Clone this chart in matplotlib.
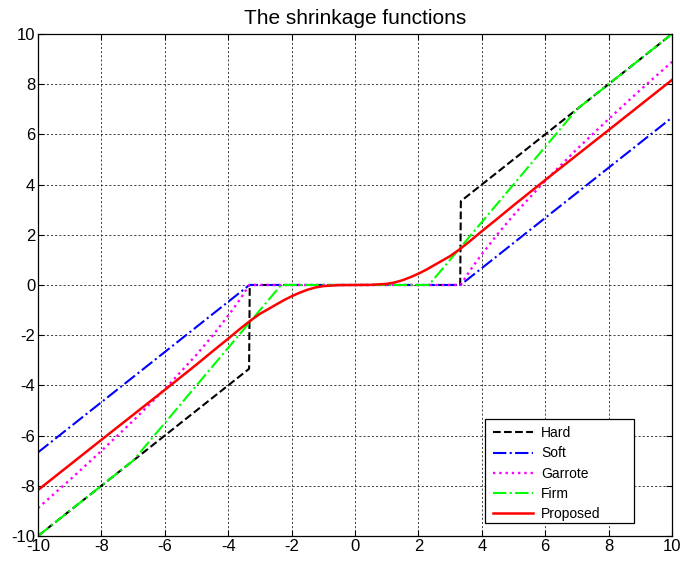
import matplotlib
matplotlib.use("Agg")
import matplotlib.pyplot as plt
from matplotlib.patches import Rectangle

plt.rcParams['font.family'] = ['Liberation Sans', 'DejaVu Sans']

# Shrinkage curves, sampled breakpoints (input -> output)
hard_x = [-10, -3.34, -3.32, 3.32, 3.34, 10]
hard_y = [-10, -3.34, 0, 0, 3.34, 10]

soft_x = [-10, -3.33, 3.33, 10]
soft_y = [-6.67, 0, 0, 6.67]

garrote_x = [-10, -9, -8, -7, -6, -5, -4.5, -4, -3.8, -3.6, -3.45, -3.33,
             3.33, 3.45, 3.6, 3.8, 4, 4.5, 5, 6, 7, 8, 9, 10]
garrote_y = [-8.89, -7.77, -6.61, -5.41, -4.15, -2.78, -2.03, -1.22, -0.88, -0.52, -0.23, 0,
             0, 0.23, 0.52, 0.88, 1.22, 2.03, 2.78, 4.15, 5.41, 6.61, 7.77, 8.89]

firm_x = [-10, -7, -2.33, 2.33, 7, 10]
firm_y = [-10, -7, 0, 0, 7, 10]

proposed_x = [-10, -8, -6, -5, -4.5, -4, -3.6, -3.3, -3, -2.75, -2.5, -2.25, -2, -1.75,
              -1.5, -1.25, -1, -0.5, 0, 0.5, 1, 1.25, 1.5, 1.75, 2, 2.25, 2.5, 2.75,
              3, 3.3, 3.6, 4, 4.5, 5, 6, 8, 10]
proposed_y = [-8.17, -6.17, -4.18, -3.17, -2.65, -2.14, -1.72, -1.42, -1.15, -0.97, -0.79,
              -0.61, -0.45, -0.31, -0.19, -0.1, -0.045, -0.005, 0, 0.005, 0.045, 0.1,
              0.19, 0.31, 0.45, 0.61, 0.79, 0.97, 1.15, 1.42, 1.72, 2.14, 2.65, 3.17,
              4.18, 6.17, 8.17]

ticks = [-10, -8, -6, -4, -2, 0, 2, 4, 6, 8, 10]

fig = plt.figure(figsize=(6.87, 5.61), dpi=100)
ax = fig.add_axes([0.0553, 0.0446, 0.9228, 0.8948])

ax.plot(hard_x, hard_y, color='black', linestyle='--', linewidth=1.5, label='Hard')
ax.plot(soft_x, soft_y, color='blue', linestyle='-.', linewidth=1.5, label='Soft')
ax.plot(garrote_x, garrote_y, color='magenta', linestyle=':', linewidth=1.7, label='Garrote')
ax.plot(firm_x, firm_y, color=(0, 1, 0), linestyle='-.', linewidth=1.5, label='Firm')
ax.plot(proposed_x, proposed_y, color='red', linestyle='-', linewidth=1.8, label='Proposed')

ax.set_xlim(-10, 10)
ax.set_ylim(-10, 10)
ax.set_xticks(ticks)
ax.set_yticks(ticks)
ax.set_xticklabels([str(t) for t in ticks])
ax.set_yticklabels([str(t) for t in ticks])
ax.tick_params(direction='in', length=4, width=0.8, labelsize=12,
               top=True, right=True, pad=2)
ax.grid(True, color='#222222', linestyle=(0, (2.5, 2.5)), linewidth=0.6)
ax.set_axisbelow(True)
for s in ax.spines.values():
    s.set_linewidth(0.9)

ax.set_title('The shrinkage functions', fontsize=15, pad=7)

# Legend box with the wide right margin of the classic style
box = Rectangle((0.705, 0.0259), 0.235, 0.2071, transform=ax.transAxes,
                facecolor='white', edgecolor='black', linewidth=0.9, zorder=4)
ax.add_patch(box)
leg = ax.legend(loc='upper left', bbox_to_anchor=(0.718, 0.2185), borderaxespad=0,
                fontsize=10, frameon=False,
                handlelength=2.9, handletextpad=0.55, labelspacing=0.44,
                borderpad=0.0)
leg.set_zorder(5)

fig.savefig('out.png', dpi=100)
